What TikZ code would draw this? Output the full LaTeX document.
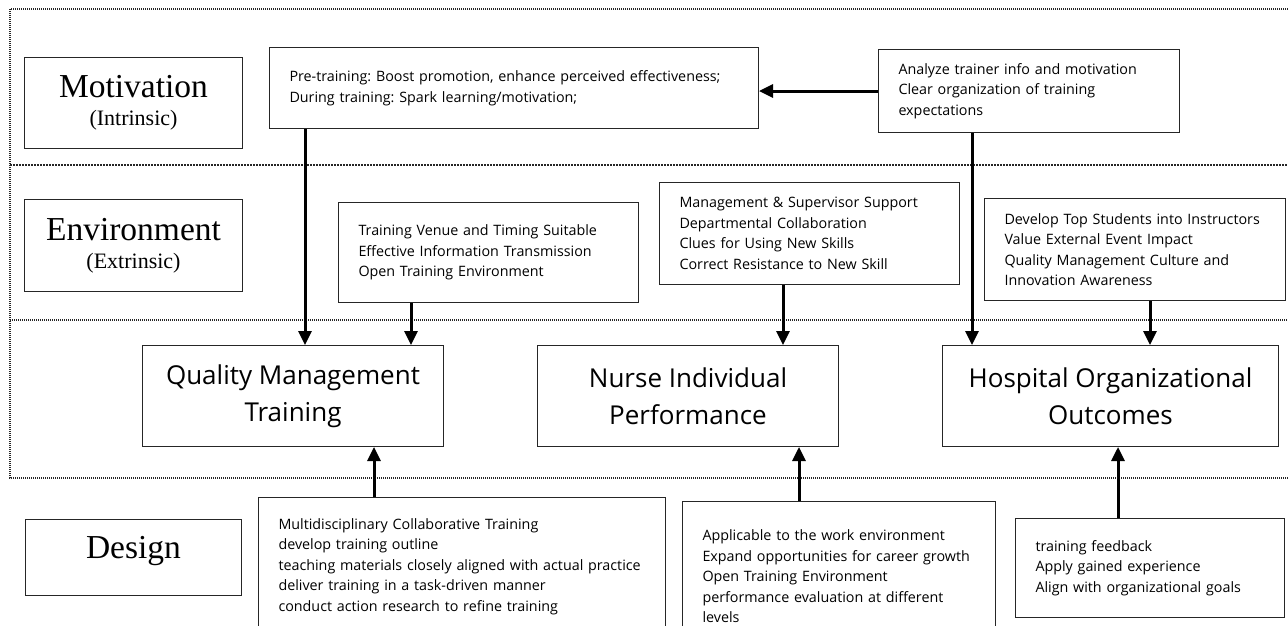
\documentclass[tikz,border=0pt]{standalone}
\usepackage{fontspec}
\setmainfont{Liberation Serif}
\setsansfont{Open Sans}
\usetikzlibrary{arrows.meta}
\frenchspacing

\begin{document}
\begin{tikzpicture}[x=1pt, y=-1pt,
		side/.style={draw=black!85, line width=1pt, anchor=north west, align=center, inner sep=0pt, font=\rmfamily\fontsize{33.5}{28}\selectfont},
		note/.style={draw=black!85, line width=1pt, anchor=north west, align=left, inner xsep=20pt, inner ysep=0pt, font=\sffamily\fontsize{14.3}{20.5}\selectfont},
		stage/.style={draw=black!85, line width=1pt, anchor=north west, align=center, inner sep=0pt, font=\sffamily\fontsize{26}{37}\selectfont},
		flow/.style={line width=3pt, -{Triangle[length=14pt, width=13pt]}},
		band/.style={line width=1.2pt, black!85, dash pattern=on 1pt off 1pt}]
	\useasboundingbox (0,0) rectangle (1288,625);
	
	% layers
	\draw[band] (1300,9) -- (10,9) -- (10,478) -- (1300,478);
	\draw[band, dash pattern=on 2pt off 1pt] (10,165) -- (1300,165);
	\draw[band] (10,320) -- (1300,320);
	
	% layer names
	\node[side, minimum width=218, minimum height=91] (mot) at (24,57) {Motivation\\{\fontsize{22}{28}\selectfont (Intrinsic)}};
	\node[side, minimum width=218, minimum height=92] (env) at (24,199) {Environment\\{\fontsize{22}{28}\selectfont (Extrinsic)}};
	\node[side, minimum width=216, minimum height=76] (des) at (25,519) {\raisebox{20pt}{Design}};
	
	% motivation
	\node[note, text width=449, minimum height=81] (pre) at (269,47) {Pre-training: Boost promotion, enhance perceived effectiveness;\\During training: Spark learning/motivation;};
	\node[note, text width=261, minimum height=83] (ana) at (878,49) {Analyze trainer info and motivation\\Clear organization of training\\expectations};
	
	% environment
	\node[note, text width=260, minimum height=100] (ven) at (338,202) {Training Venue and Timing Suitable\\Effective Information Transmission\\Open Training Environment};
	\node[note, text width=260, minimum height=102] (sup) at (659,182) {Management \& Supervisor Support\\Departmental Collaboration\\Clues for Using New Skills\\Correct Resistance to New Skill};
	\node[note, text width=261, minimum height=102] (dev) at (984,198) {Develop Top Students into Instructors\\Value External Event Impact\\Quality Management Culture and\\Innovation Awareness};
	
	% outcomes
	\node[stage, minimum width=301, minimum height=101] (qmt) at (142,345) {Quality Management\\Training};
	\node[stage, minimum width=301, minimum height=101] (nip) at (537,345) {Nurse Individual\\Performance};
	\node[stage, minimum width=336, minimum height=101] (hoo) at (942,345) {Hospital Organizational\\Outcomes};
	
	% design
	\node[note, text width=367, minimum height=138] (mdt) at (258,497) {Multidisciplinary Collaborative Training\\develop training outline\\teaching materials closely aligned with actual practice\\deliver training in a task-driven manner\\conduct action research to refine training};
	\node[note, text width=273, minimum height=150] (app) at (682,501) {Applicable to the work environment\\Expand opportunities for career growth\\Open Training Environment\\performance evaluation at different\\levels};
	\node[note, text width=229, minimum height=99] (fbk) at (1015,518) {training feedback\\Apply gained experience\\Align with organizational goals};
	
	\draw[flow] (ana.west) -- (ana.west -| pre.east);
	\draw[flow] ([xshift=36pt]pre.south west) -- ([xshift=163pt]qmt.north west);
	\draw[flow] ([xshift=73pt]ven.south west) -- ([xshift=269pt]qmt.north west);
	\draw[flow] ([xshift=124pt]sup.south west) -- ([xshift=246pt]nip.north west);
	\draw[flow] ([xshift=94pt]ana.south west) -- ([xshift=30pt]hoo.north west);
	\draw[flow] ([xshift=166pt]dev.south west) -- ([xshift=208pt]hoo.north west);
	\draw[flow] ([xshift=116pt]mdt.north west) -- ([xshift=232pt]qmt.south west);
	\draw[flow] ([xshift=117pt]app.north west) -- ([xshift=262pt]nip.south west);
	\draw[flow] ([xshift=103pt]fbk.north west) -- ([xshift=176pt]hoo.south west);
	
\end{tikzpicture}
\end{document}
